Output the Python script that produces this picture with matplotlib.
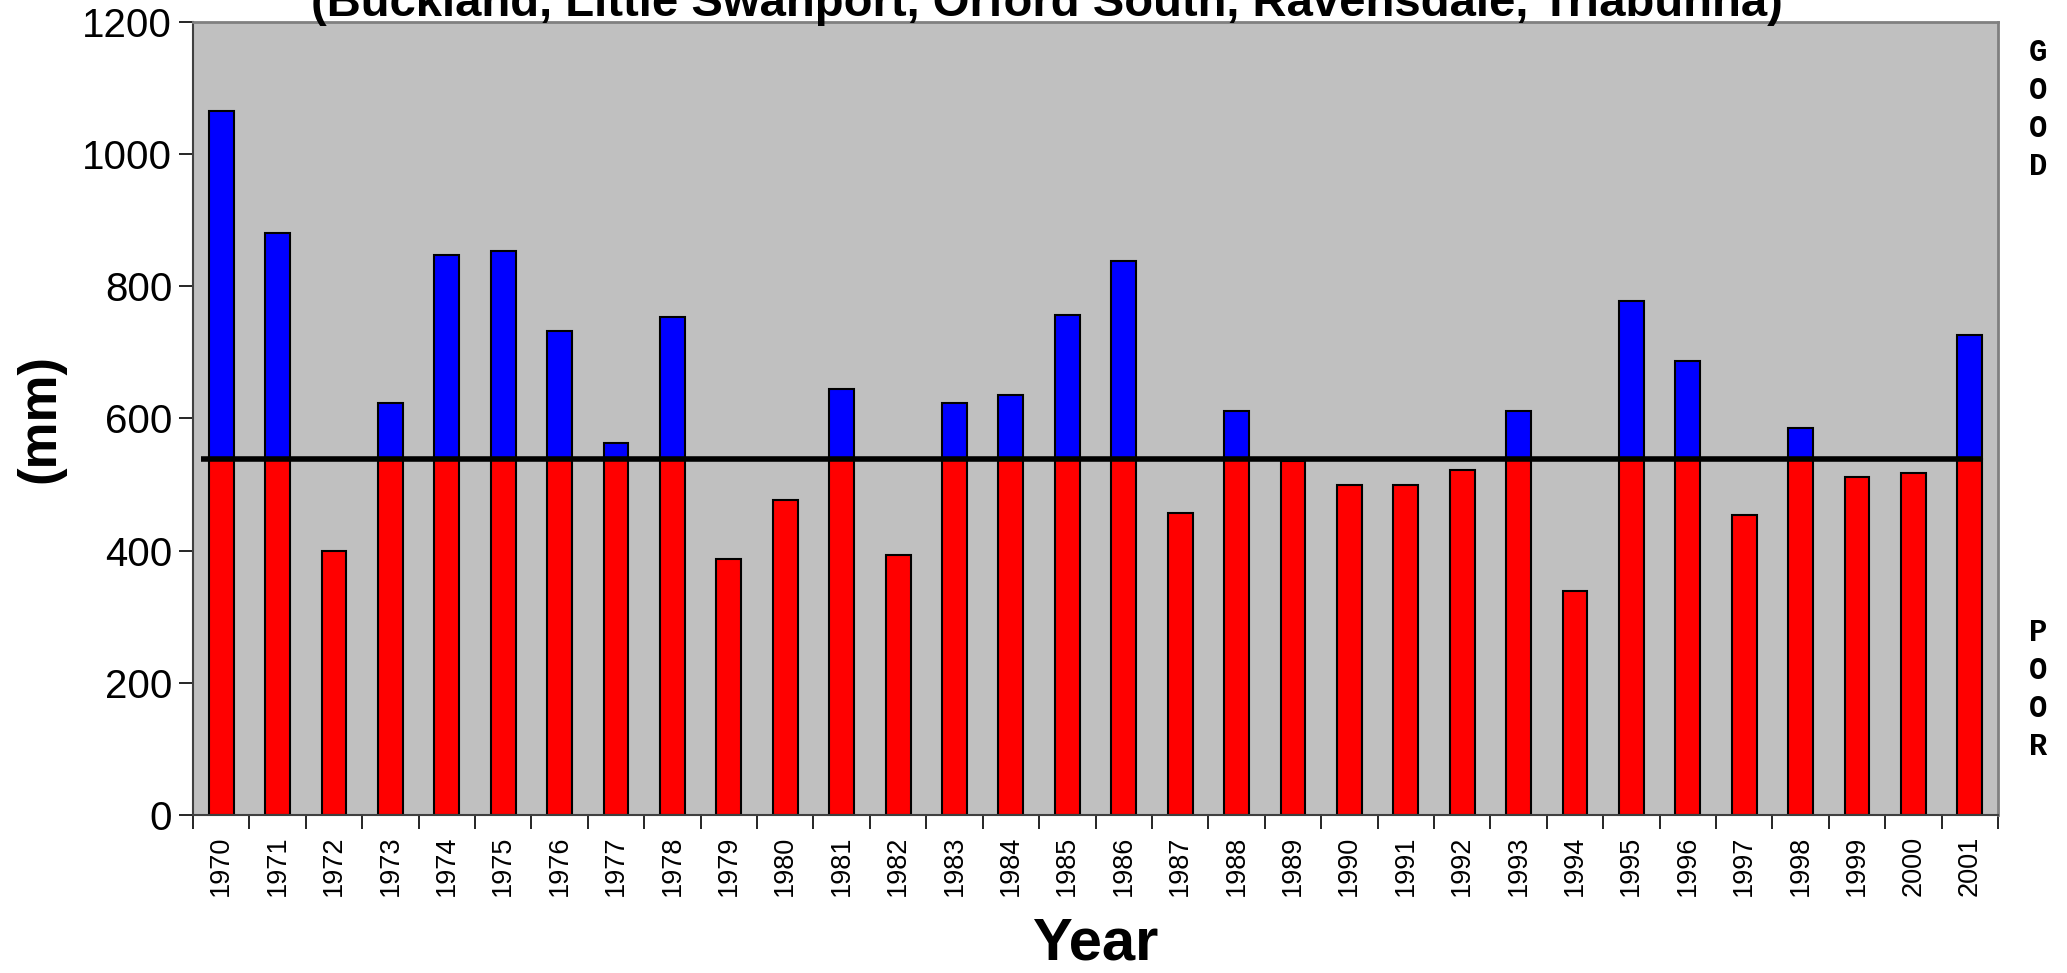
"""Annual rainfall bars split at the long-term average (good / poor years)."""

import matplotlib

matplotlib.use("Agg")
import matplotlib.pyplot as plt  # noqa: E402
import numpy as np  # noqa: E402

plt.rcParams["font.family"] = ["Liberation Sans", "DejaVu Sans"]

years = list(range(1970, 2002))
rainfall = [
    1066, 881, 399, 624, 848, 853, 733, 563, 754, 388,
    476, 645, 394, 624, 636, 757, 839, 457, 612, 536,
    500, 500, 522, 612, 339, 778, 687, 454, 585, 512,
    518, 727,
]
average = 538
title = "(Buckland, Little Swanport, Orford South, Ravensdale, Triabunna)"


def main():
    fig = plt.figure(figsize=(20.67, 9.73), dpi=100)
    ax = fig.add_axes([0.0934, 0.1624, 0.8732, 0.8150])
    ax.set_facecolor("#C0C0C0")

    rain = np.array(rainfall, dtype=float)
    x = np.arange(len(years))
    below = np.minimum(rain, average)
    above = np.maximum(rain - average, 0)

    ax.bar(x, below, width=0.44, color="#FF0000", edgecolor="black", linewidth=1.5, zorder=2)
    ax.bar(x[above > 0], above[above > 0], width=0.44, bottom=average,
           color="#0000FF", edgecolor="black", linewidth=1.5, zorder=2)
    ax.hlines(average, -0.36, len(years) - 0.76, color="black", linewidth=4, zorder=3)

    ax.set_xlim(-0.5, len(years) - 0.5)
    ax.set_ylim(0, 1200)
    ax.set_yticks(range(0, 1201, 200))
    ax.tick_params(axis="y", labelsize=29, length=10, width=1.2, pad=5, direction="out")

    ax.set_xticks(x)
    ax.set_xticklabels([str(y) for y in years], rotation=90, fontsize=19.5)
    ax.set_xticks(np.arange(-0.5, len(years)), minor=True)
    ax.tick_params(axis="x", which="major", length=0, pad=15)
    ax.tick_params(axis="x", which="minor", length=10, width=1.2, direction="out")

    for side in ("left", "bottom"):
        ax.spines[side].set_color("#404040")
        ax.spines[side].set_linewidth(1.5)
    for side in ("top", "right"):
        ax.spines[side].set_color("#808080")
        ax.spines[side].set_linewidth(2)

    # the first title line sits above the image edge in the original
    fig.text(0.5066, 1 - 16 / 973, title, ha="center", va="baseline",
             fontsize=34, fontweight="bold")
    fig.text(40 / 2067, 0.5699, "(mm)", rotation=90, ha="center", va="center",
             fontsize=38, fontweight="bold")
    fig.text(0.530, 1 - 960 / 973, "Year", ha="center", va="baseline",
             fontsize=43, fontweight="bold")

    mono = ["Liberation Mono", "DejaVu Sans Mono"]
    for word, y0 in (("GOOD", 53), ("POOR", 633)):
        for i, ch in enumerate(word):
            fig.text(2038 / 2067, 1 - (y0 + i * 38) / 973, ch, ha="center", va="center",
                     fontsize=22, fontweight="bold", family=mono)

    fig.savefig("out.png", dpi=100)


if __name__ == "__main__":
    main()
